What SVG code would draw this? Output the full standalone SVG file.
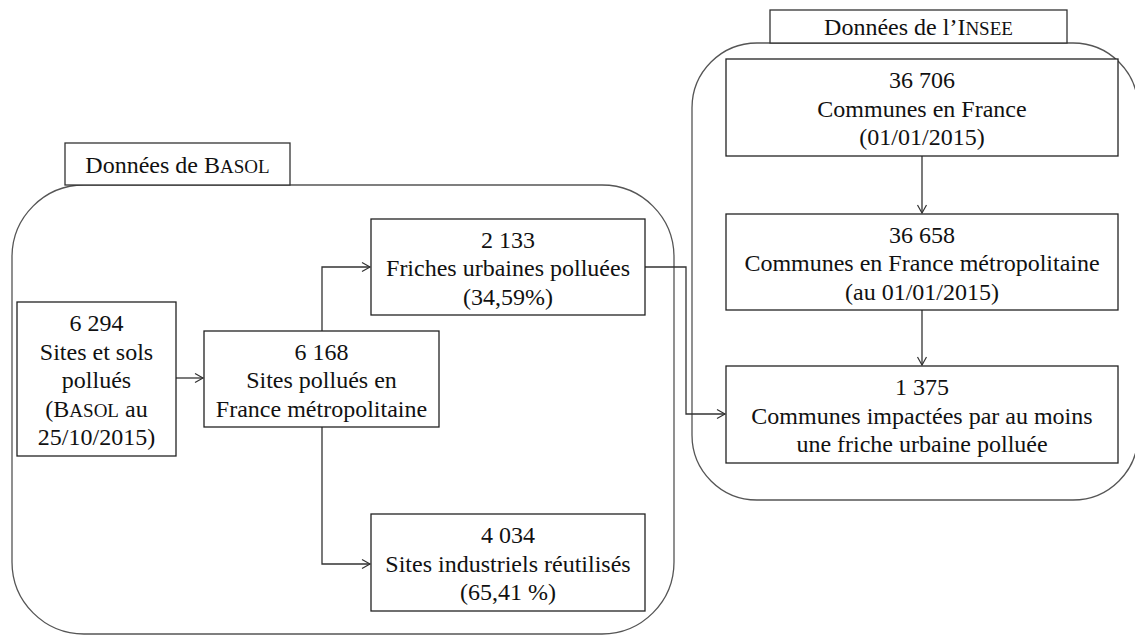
<svg xmlns="http://www.w3.org/2000/svg" width="1135" height="635" viewBox="0 0 1135 635">
<style>
.bg{fill:#fff}
.cont{fill:none;stroke:#555;stroke-width:1.3}
.box{fill:#fff;stroke:#222;stroke-width:1.3}
.lbl{fill:#fff;stroke:#333;stroke-width:1.3}
.t{font-family:"Liberation Serif","Times New Roman",serif;font-size:24px;fill:#111;text-anchor:middle}
.sc{font-size:19px}
.c{fill:none;stroke:#333;stroke-width:1.3}
</style>
<defs>
<marker id="ah" markerUnits="userSpaceOnUse" markerWidth="12" markerHeight="12" refX="9" refY="6" orient="auto">
<path d="M1,1.5 L9,6 L1,10.5" fill="none" stroke="#333" stroke-width="1.2"/>
</marker>
</defs>
<rect class="bg" x="0" y="0" width="1135" height="635"/>
<g id="container-basol">
<rect class="cont" x="12" y="185" width="662" height="449" rx="72" ry="72"/>
</g>
<g id="container-insee">
<rect class="cont" x="692" y="43" width="446" height="457" rx="65" ry="65"/>
</g>
<g id="label-basol">
<rect class="lbl" x="65" y="143" width="225" height="42"/>
<text class="t" x="177.5" y="173">Données de B<tspan class="sc">ASOL</tspan></text>
</g>
<g id="label-insee">
<rect class="lbl" x="770" y="10" width="297" height="33"/>
<text class="t" x="918.5" y="35">Données de l’I<tspan class="sc">NSEE</tspan></text>
</g>
<g id="connectors">
<path class="c" d="M176,378 H203" marker-end="url(#ah)"/>
<path class="c" d="M322,331 V267 H370" marker-end="url(#ah)"/>
<path class="c" d="M322,427 V564 H370" marker-end="url(#ah)"/>
<path class="c" d="M645,267 H686 V414 H725" marker-end="url(#ah)"/>
<path class="c" d="M922,147 V213" marker-end="url(#ah)"/>
<path class="c" d="M922,298 V365" marker-end="url(#ah)"/>
</g>
<g id="n6294">
<rect class="box" x="17" y="302" width="159" height="154"/>
<text class="t" x="96.5" y="331">6 294</text>
<text class="t" x="96.5" y="359.5">Sites et sols</text>
<text class="t" x="96.5" y="388">pollués</text>
<text class="t" x="96.5" y="416.5">(B<tspan class="sc">ASOL</tspan> au</text>
<text class="t" x="96.5" y="445">25/10/2015)</text>
</g>
<g id="n6168">
<rect class="box" x="204" y="331" width="235" height="96"/>
<text class="t" x="321.5" y="359.5">6 168</text>
<text class="t" x="321.5" y="388">Sites pollués en</text>
<text class="t" x="321.5" y="416.5">France métropolitaine</text>
</g>
<g id="n2133">
<rect class="box" x="371" y="219" width="274" height="96"/>
<text class="t" x="508" y="247.5">2 133</text>
<text class="t" x="508" y="276">Friches urbaines polluées</text>
<text class="t" x="508" y="304.5">(34,59%)</text>
</g>
<g id="n4034">
<rect class="box" x="371" y="514" width="274" height="97"/>
<text class="t" x="508" y="543">4 034</text>
<text class="t" x="508" y="571.5">Sites industriels réutilisés</text>
<text class="t" x="508" y="600">(65,41 %)</text>
</g>
<g id="n36706">
<rect class="box" x="726" y="59" width="392" height="97"/>
<text class="t" x="922" y="88">36 706</text>
<text class="t" x="922" y="116.5">Communes en France</text>
<text class="t" x="922" y="145">(01/01/2015)</text>
</g>
<g id="n36658">
<rect class="box" x="726" y="214" width="392" height="96"/>
<text class="t" x="922" y="242.5">36 658</text>
<text class="t" x="922" y="271">Communes en France métropolitaine</text>
<text class="t" x="922" y="299.5">(au 01/01/2015)</text>
</g>
<g id="n1375">
<rect class="box" x="726" y="366" width="392" height="97"/>
<text class="t" x="922" y="395">1 375</text>
<text class="t" x="922" y="423.5">Communes impactées par au moins</text>
<text class="t" x="922" y="452">une friche urbaine polluée</text>
</g>
</svg>
